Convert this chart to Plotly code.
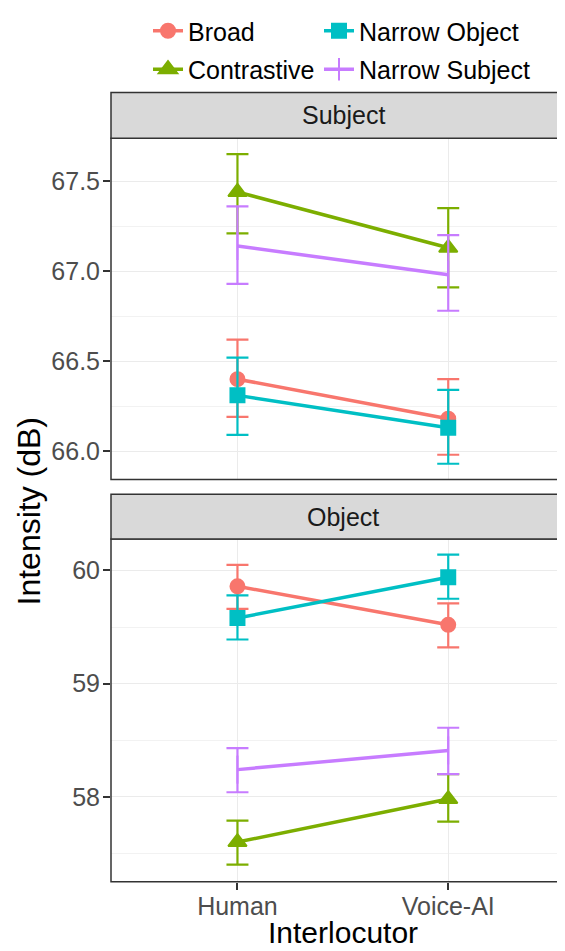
import plotly.graph_objects as go

# ---------------- data ----------------
interlocutor = ["Human", "Voice-AI"]
focus_types = ["Broad", "Contrastive", "Narrow Object", "Narrow Subject"]

# Subject panel (means, upper CI, lower CI)
subj_broad = [66.40, 66.18]
subj_broad_hi = [66.62, 66.40]
subj_broad_lo = [66.19, 65.98]
subj_contr = [67.44, 67.13]
subj_contr_hi = [67.65, 67.35]
subj_contr_lo = [67.21, 66.91]
subj_nobj = [66.31, 66.13]
subj_nobj_hi = [66.52, 66.34]
subj_nobj_lo = [66.09, 65.93]
subj_nsubj = [67.14, 66.98]
subj_nsubj_hi = [67.36, 67.20]
subj_nsubj_lo = [66.93, 66.78]

# Object panel
obj_broad = [59.86, 59.52]
obj_broad_hi = [60.05, 59.71]
obj_broad_lo = [59.66, 59.32]
obj_contr = [57.60, 57.98]
obj_contr_hi = [57.79, 58.20]
obj_contr_lo = [57.40, 57.78]
obj_nobj = [59.58, 59.94]
obj_nobj_hi = [59.78, 60.14]
obj_nobj_lo = [59.39, 59.75]
obj_nsubj = [58.24, 58.41]
obj_nsubj_hi = [58.43, 58.61]
obj_nsubj_lo = [58.04, 58.20]

subject_data = {
    "Broad": (subj_broad, subj_broad_hi, subj_broad_lo),
    "Contrastive": (subj_contr, subj_contr_hi, subj_contr_lo),
    "Narrow Object": (subj_nobj, subj_nobj_hi, subj_nobj_lo),
    "Narrow Subject": (subj_nsubj, subj_nsubj_hi, subj_nsubj_lo),
}
object_data = {
    "Broad": (obj_broad, obj_broad_hi, obj_broad_lo),
    "Contrastive": (obj_contr, obj_contr_hi, obj_contr_lo),
    "Narrow Object": (obj_nobj, obj_nobj_hi, obj_nobj_lo),
    "Narrow Subject": (obj_nsubj, obj_nsubj_hi, obj_nsubj_lo),
}

# ---------------- style ----------------
colors = {"Broad": "#F8766D", "Contrastive": "#7CAE00",
          "Narrow Object": "#00BFC4", "Narrow Subject": "#C77CFF"}
symbols = {"Broad": "circle", "Contrastive": "triangle-up",
           "Narrow Object": "square", "Narrow Subject": "line-ns"}
msize = {"Broad": 14, "Contrastive": 16, "Narrow Object": 14, "Narrow Subject": 20}
legend_ids = {"Broad": "legend", "Narrow Object": "legend2",
              "Contrastive": "legend3", "Narrow Subject": "legend4"}

FONT = "Liberation Sans, Arial, sans-serif"
OFF = 8  # page body margin
W, H = 565 - OFF, 951 - OFF
ML, MR, MT, MB = 111 - OFF, 0, 133 - OFF, 69
PW = W - ML - MR
PH = H - MT - MB


def px_x(p):
    """page x pixel -> paper coordinate"""
    return (p - OFF - ML) / PW


def px_y(p):
    """page y pixel -> paper coordinate"""
    return (H - MB - (p - OFF)) / PH


fig = go.Figure()

for name in focus_types:
    for panel, data, xa, ya in (("S", subject_data, "x", "y"), ("O", object_data, "x2", "y2")):
        m, hi, lo = data[name]
        fig.add_trace(go.Scatter(
            x=interlocutor, y=m, mode="lines+markers", name=name,
            xaxis=xa, yaxis=ya,
            legend=legend_ids[name], legendgroup=name,
            showlegend=(panel == "S"),
            line=dict(color=colors[name], width=3.5),
            marker=dict(symbol=symbols[name], size=msize[name], color=colors[name],
                        line=dict(color=colors[name], width=2)),
            error_y=dict(type="data", symmetric=False,
                         array=[h - v for h, v in zip(hi, m)],
                         arrayminus=[v - l for v, l in zip(m, lo)],
                         color=colors[name], thickness=2.2, width=11),
        ))

top_lo = px_y(476.7)
bot_hi = px_y(536.7)

axis_common = dict(showline=False, zeroline=False, gridcolor="#EBEBEB", gridwidth=1.3)
tickfont = dict(size=25, color="#4D4D4D", family=FONT)

fig.update_layout(
    width=W, height=H,
    margin=dict(l=ML, r=MR, t=MT, b=MB),
    paper_bgcolor="white", plot_bgcolor="white",
    font=dict(family=FONT, color="#000000"),
    xaxis=dict(domain=[0, 1], anchor="y", type="category", range=[-0.6, 1.554],
               showticklabels=False, ticks="", **axis_common),
    yaxis=dict(domain=[top_lo, 1], anchor="x", range=[65.843, 67.74],
               dtick=0.5, tick0=66, tickformat=".1f",
               ticks="outside", ticklen=7, tickwidth=1.5, tickcolor="#333333",
               tickfont=tickfont, ticklabelstandoff=-2,
               minor=dict(dtick=0.25, tick0=66, showgrid=True, gridcolor="#F2F2F2", gridwidth=1),
               **axis_common),
    xaxis2=dict(domain=[0, 1], anchor="y2", type="category", range=[-0.6, 1.554],
                ticks="outside", ticklen=7, tickwidth=1.5, tickcolor="#333333",
                tickfont=tickfont, ticklabelstandoff=-5,
                **axis_common),
    yaxis2=dict(domain=[0, bot_hi], anchor="x2", range=[57.247, 60.278],
                dtick=1, tick0=58,
                ticks="outside", ticklen=7, tickwidth=1.5, tickcolor="#333333",
                tickfont=tickfont, ticklabelstandoff=-2,
                minor=dict(dtick=0.5, tick0=58, showgrid=True, gridcolor="#F2F2F2", gridwidth=1),
                **axis_common),
)

# legends (2x2 layout)
leg_common = dict(orientation="h", xanchor="left", yanchor="middle",
                  bgcolor="rgba(0,0,0,0)", borderwidth=0,
                  font=dict(size=25, family=FONT, color="#000000"))
fig.update_layout(
    legend=dict(x=px_x(148), y=px_y(25), **leg_common),
    legend2=dict(x=px_x(319), y=px_y(25), **leg_common),
    legend3=dict(x=px_x(148), y=px_y(64), **leg_common),
    legend4=dict(x=px_x(319), y=px_y(64), **leg_common),
)

shapes = []
annotations = []
# panel borders (right side runs off the image)
for top, bot in ((133.3, 476.7), (536.7, 881.7)):
    shapes.append(dict(type="rect", xref="paper", yref="paper",
                       x0=0, x1=1.2, y0=px_y(bot), y1=px_y(top),
                       line=dict(color="#333333", width=1.5), fillcolor="rgba(0,0,0,0)",
                       layer="above"))
# strips
for top, bot, label in ((87.3, 133.3, "Subject"), (491.7, 536.7, "Object")):
    shapes.append(dict(type="rect", xref="paper", yref="paper",
                       x0=0, x1=1.2, y0=px_y(bot), y1=px_y(top),
                       line=dict(color="#333333", width=1.5), fillcolor="#D9D9D9",
                       layer="above"))
    annotations.append(dict(text=label, xref="paper", yref="paper",
                            x=px_x(343), y=px_y((top + bot) / 2),
                            xanchor="center", yanchor="middle", showarrow=False,
                            font=dict(size=25, color="#1A1A1A", family=FONT)))

annotations.append(dict(text="Intensity (dB)", xref="paper", yref="paper",
                        x=px_x(29), y=px_y(509), textangle=-90,
                        xanchor="center", yanchor="middle", showarrow=False,
                        font=dict(size=32, color="#000000", family=FONT)))
annotations.append(dict(text="Interlocutor", xref="paper", yref="paper",
                        x=px_x(343), y=px_y(933),
                        xanchor="center", yanchor="middle", showarrow=False,
                        font=dict(size=30, color="#000000", family=FONT)))

fig.update_layout(shapes=shapes, annotations=annotations)

fig.write_html("out.html")
